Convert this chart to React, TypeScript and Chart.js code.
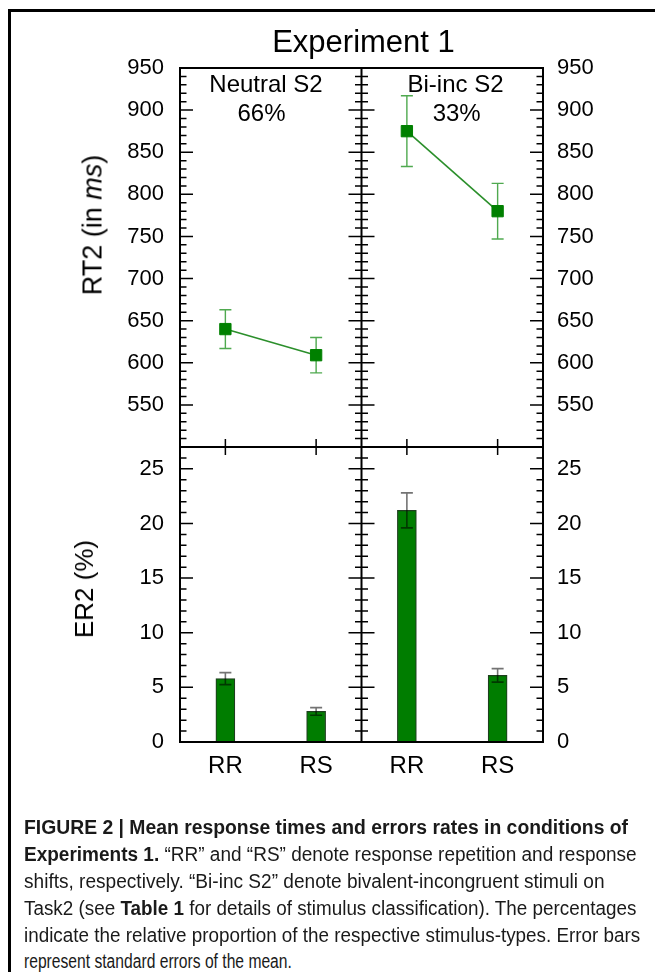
import React, { useEffect, useLayoutEffect, useRef } from 'react';
import { Chart, registerables } from 'chart.js';

Chart.register(...registerables);

// ---------- data ----------
const conditions = ['RR', 'RS'];
const panelNames = ['Neutral S2', 'Bi-inc S2'];
const panelShares = ['66%', '33%'];

const rtNeutral = [640, 609];
const rtNeutralSE = [23, 21];
const rtBiInc = [875, 780];
const rtBiIncSE = [42, 33];

const erNeutral = [5.8, 2.8];
const erNeutralSE = [0.55, 0.35];
const erBiInc = [21.2, 6.1];
const erBiIncSE = [1.6, 0.62];

const rtTickLabels = [550, 600, 650, 700, 750, 800, 850, 900, 950];
const erTickLabels = [0, 5, 10, 15, 20, 25];
const rtMin = 500;
const rtMax = 950;
const rtMinorStep = 10;
const rtMajorStep = 50;
const erMin = 0;
const erMax = 27;
const erMinorStep = 1;
const erMajorStep = 5;

// ---------- helpers ----------
const FONT = '"Liberation Sans", Arial, Helvetica, sans-serif';
const xPos = (panel: number, cond: number) => panel * conditions.length + cond + 0.5;
const xTickValues = panelNames.flatMap((_, p) => conditions.map((_, c) => xPos(p, c)));
const xTickText = panelNames.flatMap(() => conditions);
const xMax = panelNames.length * conditions.length;

type ErrSpec = { datasetIndex: number; values: number[]; se: number[]; color: string; width: number; cap: number };

function framePlugin(cfg: {
  id: string;
  min: number;
  max: number;
  minor: number;
  major: number;
  bottomXTicks: boolean;
  errors: ErrSpec[];
  errorsBefore: boolean;
}) {
  const drawErrors = (chart: any) => {
    const ctx = chart.ctx;
    const ys = chart.scales.y;
    ctx.save();
    for (const e of cfg.errors) {
      const meta = chart.getDatasetMeta(e.datasetIndex);
      meta.data.forEach((el: any, j: number) => {
        const x = el.x;
        const yTop = ys.getPixelForValue(e.values[j] + e.se[j]);
        const yBot = ys.getPixelForValue(e.values[j] - e.se[j]);
        ctx.strokeStyle = e.color;
        ctx.lineWidth = e.width;
        ctx.beginPath();
        ctx.moveTo(x, yTop);
        ctx.lineTo(x, yBot);
        ctx.moveTo(x - e.cap, yTop);
        ctx.lineTo(x + e.cap, yTop);
        ctx.moveTo(x - e.cap, yBot);
        ctx.lineTo(x + e.cap, yBot);
        ctx.stroke();
      });
    }
    ctx.restore();
  };
  return {
    id: cfg.id,
    beforeDatasetsDraw(chart: any) {
      if (cfg.errorsBefore) drawErrors(chart);
    },
    afterDatasetsDraw(chart: any) {
      if (!cfg.errorsBefore) drawErrors(chart);
    },
    afterDraw(chart: any) {
      const ctx = chart.ctx;
      const { left, right, top, bottom } = chart.chartArea;
      const xs = chart.scales.x;
      const ys = chart.scales.y;
      const mid = xs.getPixelForValue(conditions.length);
      ctx.save();
      ctx.strokeStyle = '#000';
      ctx.lineWidth = 1.5;
      ctx.beginPath();
      const majorLen = 13;
      const minorLen = 6.5;
      const n = Math.round((cfg.max - cfg.min) / cfg.minor);
      for (let i = 0; i <= n; i++) {
        const v = cfg.min + i * cfg.minor;
        const isMajor = Math.abs(v / cfg.major - Math.round(v / cfg.major)) < 1e-6;
        const len = isMajor ? majorLen : minorLen;
        const y = ys.getPixelForValue(v);
        ctx.moveTo(left, y);
        ctx.lineTo(left + len, y);
        ctx.moveTo(mid - len, y);
        ctx.lineTo(mid + len, y);
        ctx.moveTo(right - len, y);
        ctx.lineTo(right, y);
      }
      if (cfg.bottomXTicks) {
        for (const v of xTickValues) {
          const x = xs.getPixelForValue(v);
          ctx.moveTo(x, bottom - 8);
          ctx.lineTo(x, bottom + 8);
        }
      }
      ctx.stroke();
      ctx.lineWidth = 2;
      ctx.beginPath();
      ctx.rect(left, top, right - left, bottom - top);
      ctx.moveTo(mid, top);
      ctx.lineTo(mid, bottom);
      ctx.stroke();
      ctx.restore();
    },
  };
}

const tickFont = { family: FONT, size: 22 };

function yAxis(position: 'left' | 'right', min: number, max: number, labels: number[], width: number) {
  return {
    type: 'linear' as const,
    position,
    min,
    max,
    afterBuildTicks: (s: any) => {
      s.ticks = labels.map((v) => ({ value: v }));
    },
    afterFit: (s: any) => {
      s.width = width;
      s.paddingTop = 0;
      s.paddingBottom = 0;
    },
    grid: { display: false, drawTicks: false },
    border: { display: false },
    ticks: { font: tickFont, color: '#000', padding: position === 'left' ? 16 : 14, autoSkip: false },
  };
}

function TopChart() {
  const ref = useRef<HTMLCanvasElement>(null);
  useEffect(() => {
    if (!ref.current) return;
    const lineStyle = {
      borderColor: '#2b8f2b',
      borderWidth: 1.6,
      pointStyle: 'rect' as const,
      pointRadius: 8,
      pointBorderWidth: 1,
      pointBackgroundColor: '#008000',
      pointBorderColor: '#008000',
      fill: false,
      tension: 0,
    };
    const chart = new Chart(ref.current, {
      type: 'line',
      data: {
        datasets: [
          { ...lineStyle, label: panelNames[0], data: rtNeutral.map((v, c) => ({ x: xPos(0, c), y: v })) },
          { ...lineStyle, label: panelNames[1], data: rtBiInc.map((v, c) => ({ x: xPos(1, c), y: v })) },
        ],
      },
      options: {
        animation: false,
        responsive: false,
        devicePixelRatio: 1,
        events: [],
        layout: { padding: { top: 68, bottom: 23, left: 0, right: 0 } },
        plugins: { legend: { display: false }, tooltip: { enabled: false } },
        scales: {
          x: { type: 'linear', min: 0, max: xMax, offset: false, display: false },
          y: yAxis('left', rtMin, rtMax, rtTickLabels, 180),
          y2: yAxis('right', rtMin, rtMax, rtTickLabels, 112),
        },
      } as any,
      plugins: [
        framePlugin({
          id: 'topFrame',
          min: rtMin,
          max: rtMax,
          minor: rtMinorStep,
          major: rtMajorStep,
          bottomXTicks: true,
          errorsBefore: true,
          errors: [
            { datasetIndex: 0, values: rtNeutral, se: rtNeutralSE, color: 'rgba(20,140,20,0.75)', width: 1.4, cap: 6 },
            { datasetIndex: 1, values: rtBiInc, se: rtBiIncSE, color: 'rgba(20,140,20,0.75)', width: 1.4, cap: 6 },
          ],
        }),
      ],
    });
    return () => chart.destroy();
  }, []);
  return <canvas ref={ref} width={655} height={470} style={{ position: 'absolute', left: 0, top: 0 }} />;
}

function BottomChart() {
  const ref = useRef<HTMLCanvasElement>(null);
  useEffect(() => {
    if (!ref.current) return;
    const values = [...erNeutral, ...erBiInc];
    const ses = [...erNeutralSE, ...erBiIncSE];
    const chart = new Chart(ref.current, {
      type: 'bar',
      data: {
        datasets: [
          {
            label: 'ER2',
            data: values.map((v, i) => ({ x: xTickValues[i], y: v })),
            backgroundColor: '#007d00',
            borderColor: '#1f3f1f',
            borderWidth: 1.2,
            barThickness: 19,
          },
        ],
      },
      options: {
        animation: false,
        responsive: false,
        devicePixelRatio: 1,
        events: [],
        layout: { padding: { top: 17, bottom: 0, left: 0, right: 0 } },
        plugins: { legend: { display: false }, tooltip: { enabled: false } },
        scales: {
          x: {
            type: 'linear',
            min: 0,
            max: xMax,
            offset: false,
            position: 'bottom',
            afterBuildTicks: (s: any) => {
              s.ticks = xTickValues.map((v) => ({ value: v }));
            },
            afterFit: (s: any) => {
              s.height = 68;
              s.paddingLeft = 0;
              s.paddingRight = 0;
            },
            grid: { display: false, drawTicks: false, offset: false },
            border: { display: false },
            ticks: {
              font: { family: FONT, size: 24 },
              color: '#000',
              padding: 10,
              autoSkip: false,
              maxRotation: 0,
              callback: (_v: any, i: number) => xTickText[i],
            },
          },
          y: yAxis('left', erMin, erMax, erTickLabels, 180),
          y2: yAxis('right', erMin, erMax, erTickLabels, 112),
        },
      } as any,
      plugins: [
        framePlugin({
          id: 'bottomFrame',
          min: erMin,
          max: erMax,
          minor: erMinorStep,
          major: erMajorStep,
          bottomXTicks: false,
          errorsBefore: false,
          errors: [{ datasetIndex: 0, values, se: ses, color: 'rgba(0,0,0,0.55)', width: 1.6, cap: 6 }],
        }),
      ],
    });
    return () => chart.destroy();
  }, []);
  return <canvas ref={ref} width={655} height={380} style={{ position: 'absolute', left: 0, top: 430 }} />;
}

function TextAt(props: { x: number; y: number; size: number; children: React.ReactNode; style?: React.CSSProperties }) {
  const { x, y, size, children, style } = props;
  return (
    <div
      style={{
        position: 'absolute',
        left: x,
        top: y - 0.489 * size,
        transform: 'translateX(-50%)',
        fontSize: size,
        lineHeight: `${size}px`,
        fontFamily: FONT,
        whiteSpace: 'nowrap',
        color: '#000',
        ...style,
      }}
    >
      {children}
    </div>
  );
}

function Rotated(props: { x: number; y: number; size: number; children: React.ReactNode }) {
  const { x, y, size, children } = props;
  return (
    <div
      style={{
        position: 'absolute',
        left: x,
        top: y,
        transform: 'translate(-50%,-50%) rotate(-90deg)',
        fontSize: size,
        lineHeight: `${size}px`,
        fontFamily: FONT,
        whiteSpace: 'nowrap',
        color: '#000',
      }}
    >
      {children}
    </div>
  );
}

type Seg = { t: string; b?: boolean };
const captionLines: Seg[][] = [
  [{ t: 'FIGURE 2 | Mean response times and errors rates in conditions of', b: true }],
  [{ t: 'Experiments 1.', b: true }, { t: ' \u201CRR\u201D and \u201CRS\u201D denote response repetition and response' }],
  [{ t: 'shifts, respectively. \u201CBi-inc S2\u201D denote bivalent-incongruent stimuli on' }],
  [{ t: 'Task2 (see ' }, { t: 'Table 1', b: true }, { t: ' for details of stimulus classification). The percentages' }],
  [{ t: 'indicate the relative proportion of the respective stimulus-types. Error bars' }],
  [{ t: 'represent standard errors of the mean.' }],
];
const captionRightEdges = [628, 637, 605, 636, 640, 292];
const CAPTION_LEFT = 24;
const CAPTION_FIRST_Y = 828;
const CAPTION_STEP = 26.8;
const CAPTION_SIZE = 19.5;

function Caption() {
  const refs = useRef<(HTMLSpanElement | null)[]>([]);
  useLayoutEffect(() => {
    refs.current.forEach((el, i) => {
      if (!el) return;
      const w = el.offsetWidth;
      if (w > 0) el.style.transform = `scaleX(${(captionRightEdges[i] - CAPTION_LEFT) / w})`;
    });
  }, []);
  return (
    <>
      {captionLines.map((line, i) => (
        <div
          key={i}
          style={{
            position: 'absolute',
            left: CAPTION_LEFT,
            top: CAPTION_FIRST_Y + i * CAPTION_STEP - 0.489 * CAPTION_SIZE,
            fontSize: CAPTION_SIZE,
            lineHeight: `${CAPTION_SIZE}px`,
            fontFamily: FONT,
            whiteSpace: 'nowrap',
            color: '#1a1a1a',
          }}
        >
          <span
            ref={(el) => {
              refs.current[i] = el;
            }}
            style={{ display: 'inline-block', transformOrigin: 'left center' }}
          >
            {line.map((s, j) => (
              <span key={j} style={{ fontWeight: s.b ? 700 : 400 }}>
                {s.t}
              </span>
            ))}
          </span>
        </div>
      ))}
    </>
  );
}

export default function App() {
  return (
    <div
      style={{
        position: 'absolute',
        left: 0,
        top: 0,
        width: 655,
        height: 972,
        overflow: 'hidden',
        background: '#fff',
      }}
    >
      <div
        style={{
          position: 'absolute',
          left: 8,
          top: 9,
          width: 700,
          height: 1000,
          borderTop: '3px solid #000',
          borderLeft: '3px solid #000',
        }}
      />
      <TopChart />
      <BottomChart />
      <TextAt x={363.5} y={41} size={31}>
        Experiment 1
      </TextAt>
      <TextAt x={266} y={83.3} size={24}>
        {panelNames[0]}
      </TextAt>
      <TextAt x={261.5} y={113} size={24}>
        {panelShares[0]}
      </TextAt>
      <TextAt x={455.5} y={83.3} size={24}>
        {panelNames[1]}
      </TextAt>
      <TextAt x={456.7} y={113} size={24}>
        {panelShares[1]}
      </TextAt>
      <Rotated x={92.7} y={224.5} size={27}>
        RT2 (in <i>ms</i>)
      </Rotated>
      <Rotated x={84.2} y={589} size={26}>
        ER2 (%)
      </Rotated>
      <Caption />
    </div>
  );
}
